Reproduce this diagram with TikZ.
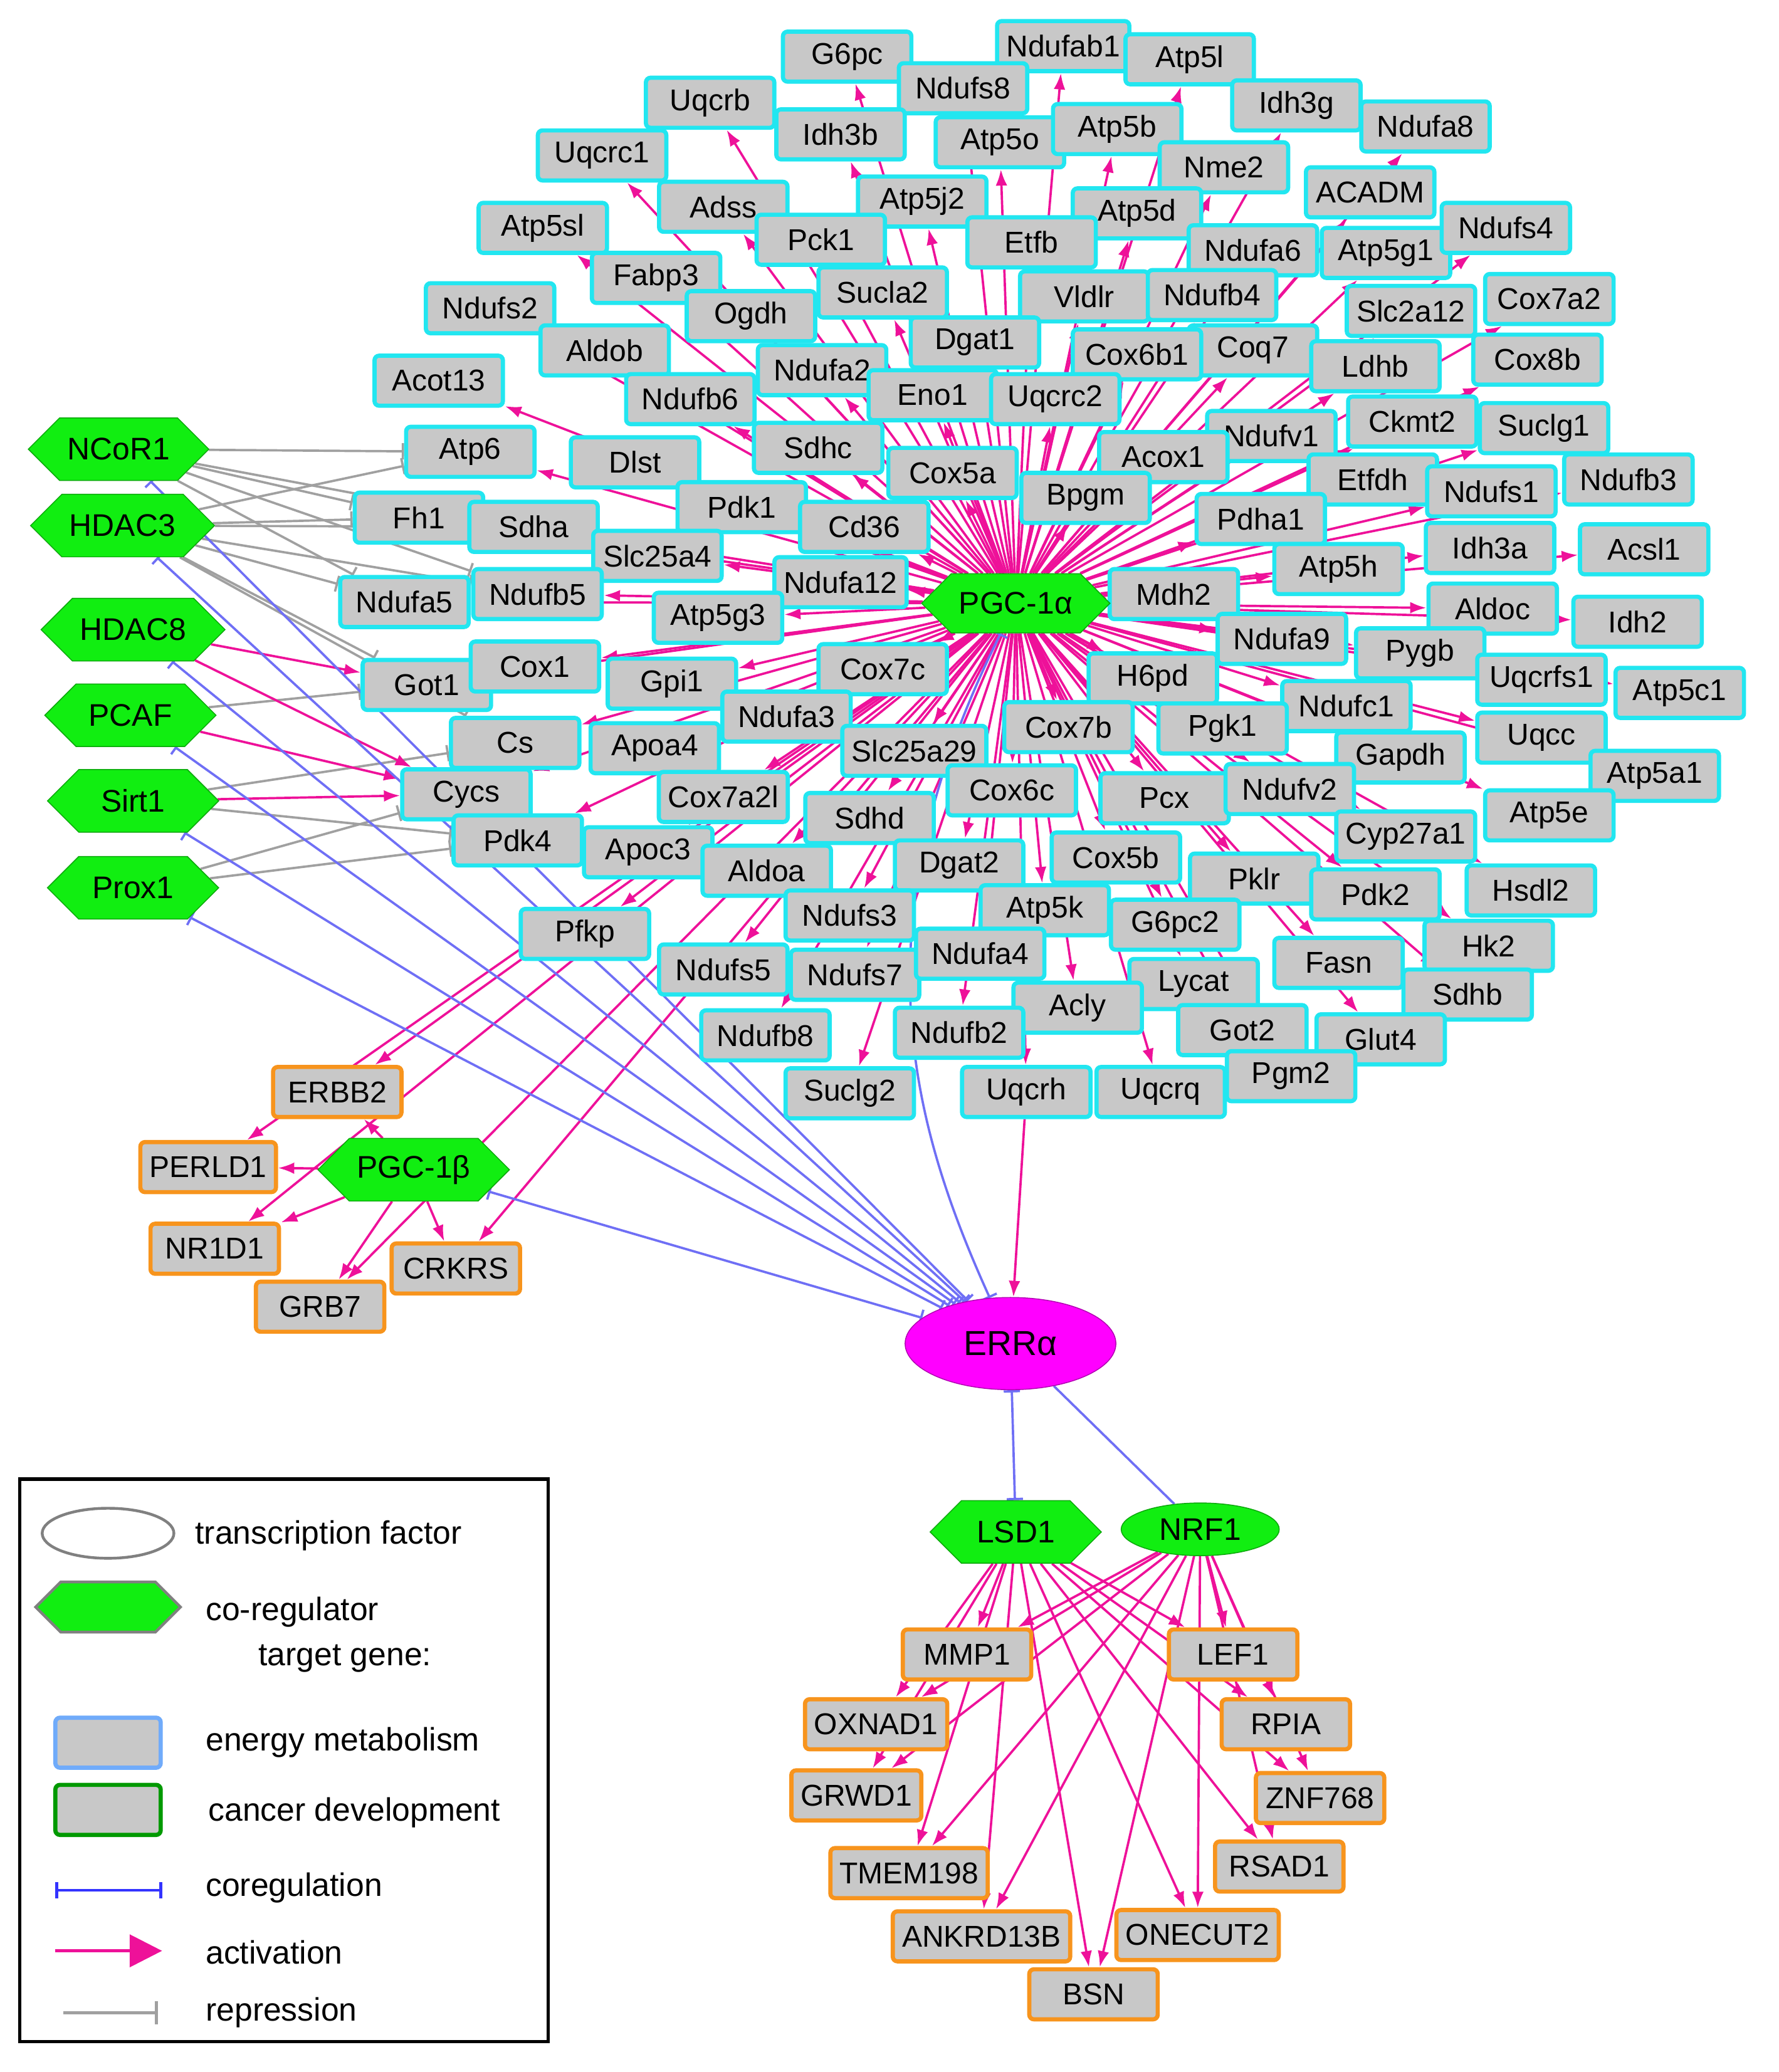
\documentclass[tikz,border=0pt]{standalone}
\usepackage{fontspec}
\setmainfont{Liberation Sans}
\usetikzlibrary{shapes.geometric,shapes.symbols,arrows.meta,backgrounds}
\definecolor{mag}{HTML}{EE1199}
\definecolor{cy}{HTML}{22E6F0}
\definecolor{bx}{HTML}{C8C8C8}
\definecolor{org}{HTML}{F7941D}
\definecolor{grn}{HTML}{11EE11}
\definecolor{blu}{HTML}{6F6FF5}
\definecolor{gry}{HTML}{A0A0A0}
\definecolor{erra}{HTML}{FF00FF}
\tikzset{
 en/.style={draw=cy,line width=1.8pt,fill=bx,rounded corners=2pt,minimum width=1.95cm,minimum height=0.76cm,inner xsep=4pt,font=\fontsize{13}{15}\selectfont},
 ca/.style={en,draw=org},
 hex/.style={signal,signal to=west and east,fill=grn,draw=grn!70!black,line width=0.4pt,minimum width=2.6cm,minimum height=0.95cm,font=\fontsize{13.5}{15}\selectfont},
 act/.style={draw=mag,line width=1pt,-{Latex[length=7pt,width=5pt]}},
 rep/.style={draw=gry,line width=1pt,-{Bar[width=7pt]}},
 cor/.style={draw=blu,line width=1pt,{Bar[width=7pt]}-{Bar[width=7pt]}},
 lg/.style={anchor=west,font=\fontsize{14}{16}\selectfont}
}
\def\enlist{G6pc/643/43,Ndufab1/807/35,Atp5l/903/45,Ndufs8/731/67,Uqcrb/539/78,Idh3g/984/80,Ndufa8/1082/96,Idh3b/638/102,Atp5o/759/108,Atp5b/848/98,Uqcrc1/457/118,Nme2/929/127,ACADM/1040/146,Adss/549/157,Atp5j2/700/153,Atp5d/863/162,Atp5sl/412/173,Pck1/623/182,Etfb/783/184,Ndufa6/951/190,Atp5g1/1052/192,Ndufs4/1143/173,Fabp3/498/211,Sucla2/670/222,Vldlr/823/225,Ndufb4/920/224,Slc2a12/1071/236,Cox7a2/1176/227,Ndufs2/372/234,Ogdh/570/240,Dgat1/740/260,Coq7/951/266,Cox6b1/863/269,Ldhb/1044/278,Cox8b/1167/273,Aldob/459/266,Acot13/333/289,Ndufa2/624/281,Ndufb6/524/303,Eno1/708/300,Uqcrc2/801/303,Ckmt2/1072/320,Suclg1/1172/325,Ndufv1/965/331,Atp6/357/343,Dlst/482/351,Sdhc/621/340,Cox5a/723/359,Acox1/883/347,Bpgm/824/378,Etfdh/1042/364,Ndufs1/1132/373,Ndufb3/1236/364,Fh1/318/393,Sdha/405/400,Pdk1/563/385,Cd36/656/400,Pdha1/957/394,Idh3a/1131/416,Acsl1/1248/417,Slc25a4/499/422,Ndufa12/638/442,Atp5h/1016/432,Ndufa5/307/457,Ndufb5/408/451,Atp5g3/545/469,Mdh2/891/451,Aldoc/1133/462,Idh2/1243/472,Ndufa9/973/485,Pygb/1078/496,Got1/324/520,Cox1/406/506,Gpi1/510/519,Cox7c/670/508,H6pd/875/515,Uqcrfs1/1170/516,Atp5c1/1275/526,Ndufc1/1022/536,Ndufa3/597/544,Cs/391/564,Apoa4/497/568,Slc25a29/694/570,Cox7b/811/552,Pgk1/928/553,Uqcc/1170/560,Gapdh/1063/575,Atp5a1/1256/589,Cycs/354/603,Cox7a2l/549/605,Cox6c/768/600,Pcx/884/606,Ndufv2/979/599,Atp5e/1176/619,Sdhd/660/621,Cyp27a1/1067/635,Pdk4/393/638,Apoc3/492/647,Aldoa/582/661,Dgat2/728/657,Cox5b/847/651,Pklr/952/667,Pdk2/1044/679,Hsdl2/1162/676,Ndufs3/645/695,Atp5k/793/691,G6pc2/892/702,Pfkp/444/709,Ndufs5/549/736,Ndufs7/649/740,Ndufa4/744/724,Lycat/906/747,Fasn/1016/731,Hk2/1130/718,Sdhb/1114/755,Acly/818/765,Ndufb8/581/786,Ndufb2/728/784,Got2/943/782,Glut4/1048/789,Pgm2/980/817,Suclg2/645/830,Uqcrh/779/829,Uqcrq/881/829}
\begin{document}
\begin{tikzpicture}[x=0.02cm,y=-0.02cm]
\useasboundingbox (0,0) rectangle (1350,1573);
\foreach \n/\x/\y in \enlist { \node[en] (\n) at (\x,\y) {\n}; }
\node[hex,minimum width=2.5cm,minimum height=0.9cm] (pgca) at (771,458) {PGC-1α};
\node[hex] (NCoR1) at (90,341) {NCoR1};
\node[hex] (HDAC3) at (93,399) {HDAC3};
\node[hex] (HDAC8) at (101,478) {HDAC8};
\node[hex] (PCAF) at (99,543) {PCAF};
\node[hex] (Sirt1) at (101,608) {Sirt1};
\node[hex] (Prox1) at (101,674) {Prox1};
\node[ca] (ERBB2) at (256,829) {ERBB2};
\node[ca] (PERLD1) at (158,886) {PERLD1};
\node[ca] (NR1D1) at (163,948) {NR1D1};
\node[ca] (GRB7) at (243,992) {GRB7};
\node[ca] (CRKRS) at (346,963) {CRKRS};
\node[hex,minimum width=2.6cm] (pgcb) at (314,888) {PGC-1β};
\node[ellipse,fill=erra,draw=erra!70!black,minimum width=3.2cm,minimum height=1.4cm,font=\fontsize{15}{17}\selectfont] (ERRa) at (767,1020) {ERRα};
\node[hex,minimum width=2.6cm,minimum height=0.95cm] (LSD1) at (771,1163) {LSD1};
\node[ellipse,fill=grn,draw=grn!70!black,minimum width=2.4cm,minimum height=0.8cm,font=\fontsize{13.5}{15}\selectfont] (NRF1) at (911,1161) {NRF1};
\foreach \n/\x/\y in {MMP1/734/1256,LEF1/936/1256,OXNAD1/665/1309,RPIA/976/1309,GRWD1/650/1363,ZNF768/1002/1365,TMEM198/690/1422,RSAD1/971/1417,ANKRD13B/745/1470,ONECUT2/909/1469,BSN/830/1514}
 { \node[ca] (\n) at (\x,\y) {\n}; }
% legend
\draw[line width=1.5pt] (15,1123) rectangle (416,1550);
\node[ellipse,draw=gray,line width=1.2pt,minimum width=2cm,minimum height=0.76cm] (lgE) at (82,1164) {};
\node[lg] (lgEt) at (142,1166) {transcription factor};
\node[hex,draw=gray,line width=1.2pt,minimum width=2.2cm,minimum height=0.76cm] (lgH) at (82,1220) {};
\node[lg] (lgHt) at (150,1224) {co-regulator};
\node[lg] (lgTt) at (190,1259) {target gene:};
\node[en,draw=cy!50!blue!60,minimum width=1.6cm] (lgB) at (82,1323) {};
\node[lg] (lgBt) at (150,1323) {energy metabolism};
\node[en,draw=green!60!black,minimum width=1.6cm] (lgG) at (82,1374) {};
\node[lg] (lgGt) at (152,1376) {cancer development};
\coordinate (l1a) at (42,1435); \coordinate (l1b) at (123,1435);
\draw[line width=1.2pt,draw=blue!80,{Bar[width=7pt]}-{Bar[width=7pt]}] (l1a) -- (l1b);
\node[lg] (l1t) at (150,1433) {coregulation};
\coordinate (l2a) at (42,1481); \coordinate (l2b) at (123,1481);
\draw[line width=1.2pt,draw=mag,-{Triangle[length=14pt,width=14pt]}] (l2a) -- (l2b);
\node[lg] (l2t) at (150,1482) {activation};
\coordinate (l3a) at (48,1528); \coordinate (l3b) at (120,1528);
\draw[line width=1.5pt,draw=gry,-{Bar[width=10pt]}] (l3a) -- (l3b);
\node[lg] (l3t) at (150,1528) {repression};
\begin{scope}[on background layer]
\foreach \n/\x/\y in \enlist { \draw[act] (pgca) -- (\n); }
\foreach \t in {ERBB2,NR1D1,GRB7,PERLD1,CRKRS} { \draw[act] (pgca) -- (\t); }
\foreach \t in {ERBB2,PERLD1,NR1D1,GRB7,CRKRS} { \draw[act] (pgcb) -- (\t); }
\foreach \s/\t in {NCoR1/Atp6,NCoR1/Fh1,NCoR1/Sdha,NCoR1/Ndufa5,NCoR1/Ndufb5,HDAC3/Atp6,HDAC3/Fh1,HDAC3/Sdha,HDAC3/Ndufa5,HDAC3/Ndufb5,HDAC3/Got1,HDAC3/Cs,Sirt1/Cs,Sirt1/Pdk4,Prox1/Cycs,Prox1/Pdk4,PCAF/Got1}
 { \draw[rep] (\s) -- (\t); }
\foreach \s/\t in {HDAC8/Got1,HDAC8/Cycs,PCAF/Cycs,Sirt1/Cycs} { \draw[act] (\s) -- (\t); }
\foreach \s in {NCoR1,HDAC3,HDAC8,PCAF,Sirt1,Prox1,pgcb} { \draw[cor] (\s) -- (ERRa); }
\draw[cor] (pgca) .. controls (650,700) and (690,850) .. (ERRa);
\draw[act] (Uqcrh) -- (ERRa);
\draw[cor] (ERRa) -- (LSD1);
\draw[draw=blu,line width=1pt] (ERRa) -- (NRF1);
\foreach \s in {LSD1,NRF1} { \foreach \t in {MMP1,LEF1,OXNAD1,RPIA,GRWD1,ZNF768,TMEM198,RSAD1,ANKRD13B,ONECUT2,BSN} { \draw[act] (\s) -- (\t); } }
\end{scope}
\end{tikzpicture}
\end{document}
